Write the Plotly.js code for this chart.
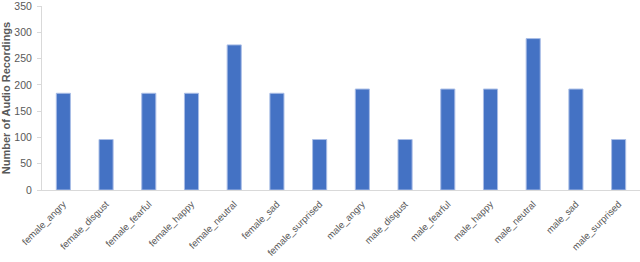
<!DOCTYPE html>
<html><head><meta charset="utf-8">
<script src="https://cdn.plot.ly/plotly-3.0.1.min.js"></script>
<style>html,body{margin:0;padding:0;background:#fff}#c{width:640px;height:262px}</style>
</head><body><div id="c"></div>
<script>
const categories = ["female_angry","female_disgust","female_fearful","female_happy","female_neutral","female_sad","female_surprised","male_angry","male_disgust","male_fearful","male_happy","male_neutral","male_sad","male_surprised"];
const counts = [184, 96, 184, 184, 276, 184, 96, 192, 96, 192, 192, 288, 192, 96];
const yTicks = [0, 50, 100, 150, 200, 250, 300, 350];

Plotly.newPlot('c', [{
  type: 'bar',
  x: categories,
  y: counts,
  width: 0.33,
  marker: {color: '#4472C4', line: {color: '#a9bde6', width: 1}},
  hoverinfo: 'x+y'
}], {
  width: 640, height: 262,
  margin: {l: 42, r: 0, t: 6, b: 72},
  paper_bgcolor: '#fff', plot_bgcolor: '#fff',
  font: {family: 'Liberation Sans, Arial, sans-serif', color: '#595959', size: 10},
  xaxis: {
    tickangle: -45, showline: true, linecolor: '#d9d9d9', linewidth: 1,
    ticks: '', tickfont: {size: 9.5, color: '#595959'}, showgrid: false,
    ticklabelstandoff: 4,
    automargin: false
  },
  yaxis: {
    range: [0, 350], tickvals: yTicks, showgrid: false, zeroline: false,
    showline: true, linecolor: '#d9d9d9', linewidth: 1, ticks: 'outside', ticklen: 4, tickcolor: '#d9d9d9',
    tickfont: {size: 10.5, color: '#595959'}, ticklabelstandoff: 3,
    ticklabeloverflow: 'allow',
    title: {text: '<b>Number of Audio Recordings</b>', font: {size: 11, color: '#595959'}, standoff: 4},
    automargin: false
  },
  showlegend: false
}, {displayModeBar: false, staticPlot: true});
</script></body></html>
